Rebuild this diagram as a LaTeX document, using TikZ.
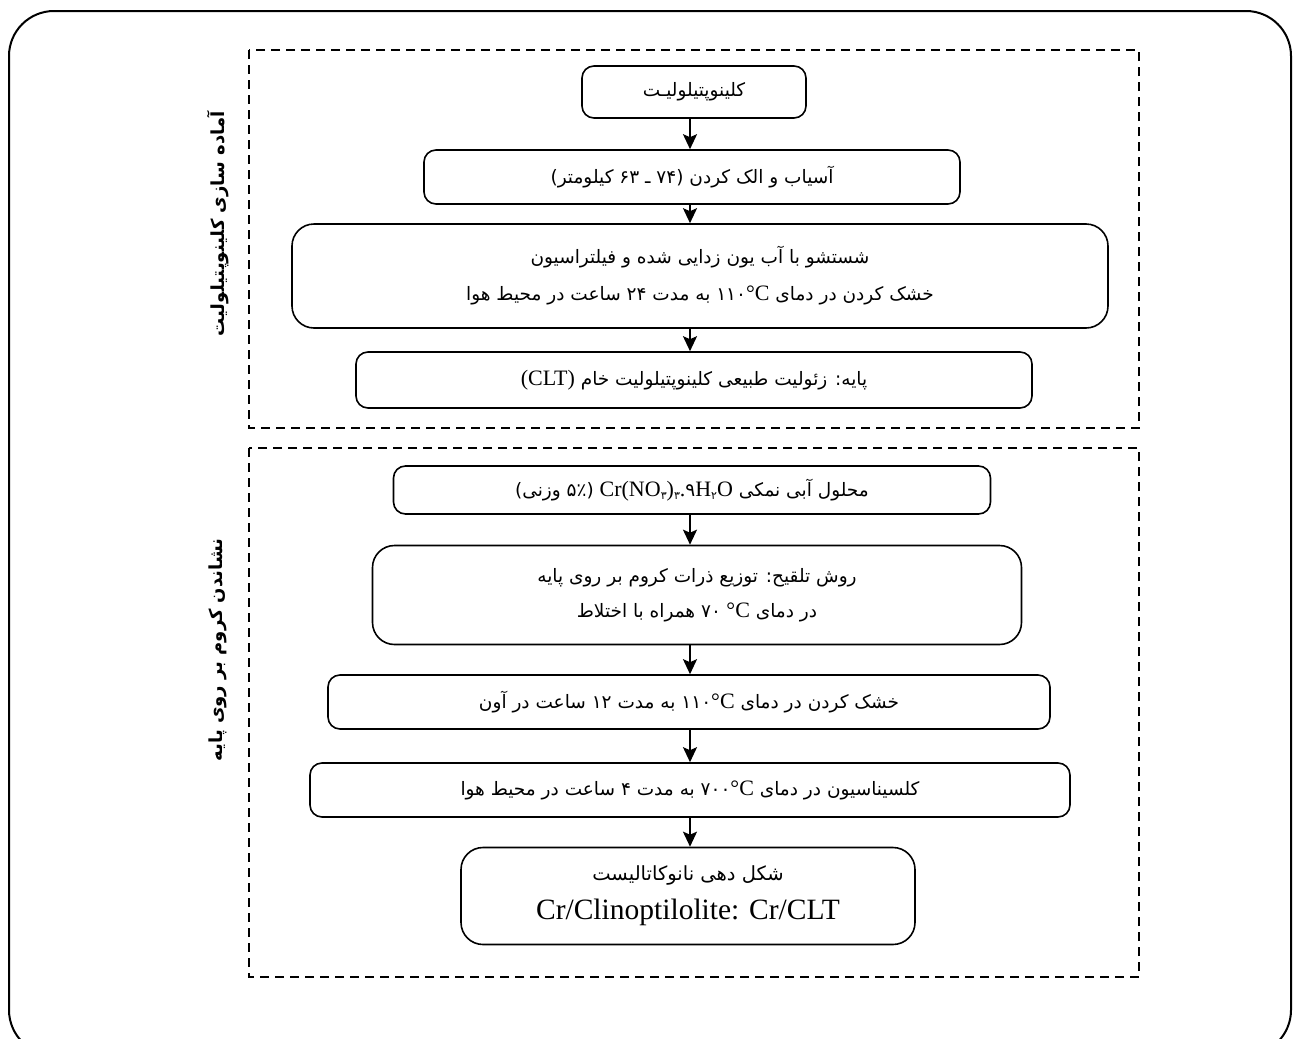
\documentclass[tikz,border=0pt]{standalone}
\usepackage{fontspec}
\setmainfont{Liberation Serif}
\newfontfamily\fa[Script=Arabic]{DejaVu Sans}
\TeXXeTstate=1
\usetikzlibrary{arrows.meta}
\newcommand\RL[1]{{\fa\beginR #1\endR}}
\newcommand\LT[1]{\beginL{\rmfamily\fontsize{22}{24}\selectfont #1}\endL{}}
\newcommand\fanum[1]{{\fa\fontsize{18.5}{20}\selectfont #1}}
\newcommand\fasub[1]{\raisebox{-0.35ex}{\fa\fontsize{11}{11}\selectfont #1}}
\tikzset{
  box/.style={draw, line width=1.6pt, rounded corners=12pt, inner sep=0pt,
    font=\fontsize{18.5}{37}\selectfont, align=center},
  bigbox/.style={box, rounded corners=22pt},
  arr/.style={line width=2pt, -{Stealth[length=15pt,width=14pt,inset=3pt]}},
  group/.style={line width=2.6pt, dash pattern=on 9pt off 6pt},
  sidelabel/.style={rotate=90, font=\fontsize{18}{20}\selectfont\bfseries}
}
\begin{document}
\begin{tikzpicture}[x=1pt,y=-1pt]
\useasboundingbox (0,0) rectangle (1299,1039);
% outer frame
\draw[line width=2pt, rounded corners=45pt] (9,11) rectangle (1291,1055);
% dashed groups
\draw[group] (249,50) rectangle (1139,428);
\draw[group] (249,448) rectangle (1139,977);
% side labels
\node[sidelabel] (l1) at (218,224) {\RL{آماده سازی کلینوپتیلولیت}};
\node[sidelabel] (l2) at (218,650) {\RL{نشاندن کروم بر روی پایه}};
% column for arrows
\coordinate (ax) at (690,0);
% boxes
\node[box, minimum width=224pt, minimum height=52pt] (n1) at (694,92)
  {\RL{کلینوپتیلولیـت}};
\node[box, minimum width=536pt, minimum height=54pt] (n2) at (692,177)
  {\RL{آسیاب و الک کردن (۷۴ ـ ۶۳ کیلومتر)}};
\node[bigbox, minimum width=816pt, minimum height=104pt] (n3) at (700,276)
  {\RL{شستشو با آب یون زدایی شده و فیلتراسیون}\\
   \RL{خشک کردن در دمای \LT{\fanum{۱۱۰}°C} به مدت ۲۴ ساعت در محیط هوا}};
\node[box, minimum width=676pt, minimum height=56pt] (n4) at (694,380)
  {\RL{پایه: زئولیت طبیعی کلینوپتیلولیت خام \LT{(CLT)}}};
\node[box, minimum width=597pt, minimum height=48pt] (n5) at (692,490)
  {\RL{محلول آبی نمکی \LT{Cr(NO\fasub{۳})\fasub{۳}.\fanum{۹}H\fasub{۲}O} (۵٪ وزنی)}};
\node[bigbox, minimum width=649pt, minimum height=99pt, font=\fontsize{18.5}{35}\selectfont] (n6) at (697,595)
  {\RL{روش تلقیح: توزیع ذرات کروم بر روی پایه}\\
   \RL{در دمای \LT{\fanum{۷۰} °C} همراه با اختلاط}};
\node[box, minimum width=722pt, minimum height=54pt] (n7) at (689,702)
  {\RL{خشک کردن در دمای \LT{\fanum{۱۱۰}°C} به مدت ۱۲ ساعت در آون}};
\node[box, minimum width=760pt, minimum height=54pt] (n8) at (690,790)
  {\RL{کلسیناسیون در دمای \LT{\fanum{۷۰۰}°C} به مدت ۴ ساعت در محیط هوا}};
\node[bigbox, minimum width=454pt, minimum height=97pt, font=\fontsize{19.5}{39}\selectfont] (n9) at (688,896)
  {\RL{شکل دهی نانوکاتالیست}\\
   {\rmfamily\fontsize{29.5}{30}\selectfont Cr/Clinoptilolite: Cr/CLT}};
% arrows
\draw[arr] (n1.south -| ax) -- (n2.north -| ax);
\draw[arr] (n2.south -| ax) -- (n3.north -| ax);
\draw[arr] (n3.south -| ax) -- (n4.north -| ax);
\draw[arr] (n5.south -| ax) -- (n6.north -| ax);
\draw[arr] (n6.south -| ax) -- (n7.north -| ax);
\draw[arr] (n7.south -| ax) -- (n8.north -| ax);
\draw[arr] (n8.south -| ax) -- (n9.north -| ax);
\end{tikzpicture}
\end{document}
